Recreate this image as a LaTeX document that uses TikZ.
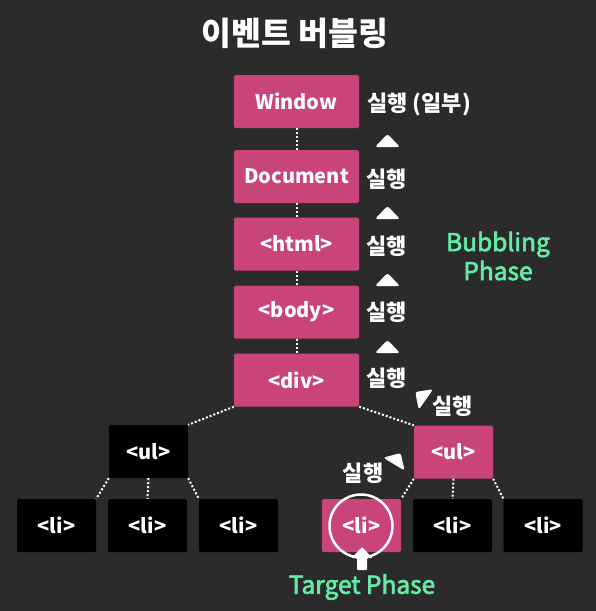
\documentclass[tikz,border=0pt]{standalone}
\usepackage{fontspec}
\setmainfont{Noto Sans CJK KR}
\newfontfamily\phasefont[FakeBold=2.6]{Noto Sans CJK KR}
\usepackage{tikz}

\definecolor{evback}{RGB}{43,43,43}
\definecolor{evpink}{RGB}{201,68,123}
\definecolor{evgreen}{RGB}{98,236,164}

\tikzset{
  pinkbox/.style={fill=evpink, rounded corners=1.5pt, text=white, inner sep=0pt,
    font=\bfseries\fontsize{20}{22}\selectfont},
  wide/.style={minimum width=125pt, minimum height=53pt},
  narrow/.style={minimum width=79pt, minimum height=53pt},
  blackbox/.style={pinkbox, fill=black},
  runlabel/.style={text=white, inner sep=0pt, font=\bfseries\fontsize{22}{24}\selectfont},
  phaselabel/.style={text=evgreen, inner sep=0pt, align=center,
    font=\phasefont\fontsize{24.5}{29}\selectfont},
  link/.style={draw=white, line width=2pt, dash pattern=on 2pt off 2pt},
  uptri/.pic={\fill[white, rounded corners=2.5pt] (-12.5,6) -- (0,-7) -- (12.5,6) -- cycle;}
}

\begin{document}
\begin{tikzpicture}
[x=1pt,y=-1pt]
\fill[evback] (0,0) rectangle (596,611);
\useasboundingbox (0,0) rectangle (596,611);

\node[text=white, font=\bfseries\fontsize{32.5}{36}\selectfont] (title) at (295,33) {이벤트 버블링};

\node[pinkbox,wide] (win) at (296.5,101.5) {Window};
\node[pinkbox,wide] (doc) at (296.5,176.5) {Document};
\node[pinkbox,wide] (html) at (296.5,244) {<html>};
\node[pinkbox,wide] (body) at (296.5,312) {<body>};
\node[pinkbox,wide] (div) at (296.5,380) {<div>};

\node[blackbox,narrow] (ulL) at (148.5,451.5) {<ul>};
\node[pinkbox,narrow] (ulR) at (453.5,452) {<ul>};

\node[blackbox,narrow] (li1) at (56.5,525.5) {<li>};
\node[blackbox,narrow] (li2) at (147.5,525.5) {<li>};
\node[blackbox,narrow] (li3) at (238.5,525.5) {<li>};
\node[pinkbox,narrow] (li4) at (361.5,525.5) {<li>};
\node[blackbox,narrow] (li5) at (452.5,525.5) {<li>};
\node[blackbox,narrow] (li6) at (543,525.5) {<li>};

\foreach \from/\to in {win/doc,doc/html,html/body,body/div,ulL/li2,ulR/li5}
\draw[link] (\from.south) -- (\to.north);
\foreach \from/\to in {div.south west/ulL.north east,div.south east/ulR.north west,
  ulL.south west/li1.north east,ulL.south east/li3.north west,
  ulR.south west/li4.north east,ulR.south east/li6.north west}
\draw[link] (\from) -- (\to);

\node[runlabel,anchor=west] (r1) at (367,104) {실행 (일부)};
\node[runlabel,anchor=west] (r2) at (366,179) {실행};
\node[runlabel,anchor=west] (r3) at (366,246) {실행};
\node[runlabel,anchor=west] (r4) at (366,312) {실행};
\node[runlabel,anchor=west] (r5) at (366,378) {실행};
\node[runlabel,anchor=west] (r6) at (432,406) {실행};
\node[runlabel] (r7) at (363,473) {실행};

\pic at (387.5,141) {uptri};
\pic at (387.5,213) {uptri};
\pic at (387.5,280) {uptri};
\pic at (387.5,347) {uptri};
\pic[rotate=55] at (421,396) {uptri};
\pic[rotate=-31] at (397,459) {uptri};

\node[circle, draw=white, line width=2.5pt, minimum size=63pt, inner sep=0pt] (target) at (361,526) {};
\coordinate (tip) at (362,547);
\fill[white, rounded corners=0.8pt] (tip) -- ++(10.5,11) -- ++(-5.5,0) -- ++(0,12) -- ++(-10,0)
  -- ++(0,-12) -- ++(-5.5,0) -- cycle;

\node[phaselabel] (bubble) at (498,256) {Bubbling\\Phase};
\node[phaselabel] (tphase) at (362,587) {Target Phase};
\end{tikzpicture}
\end{document}
